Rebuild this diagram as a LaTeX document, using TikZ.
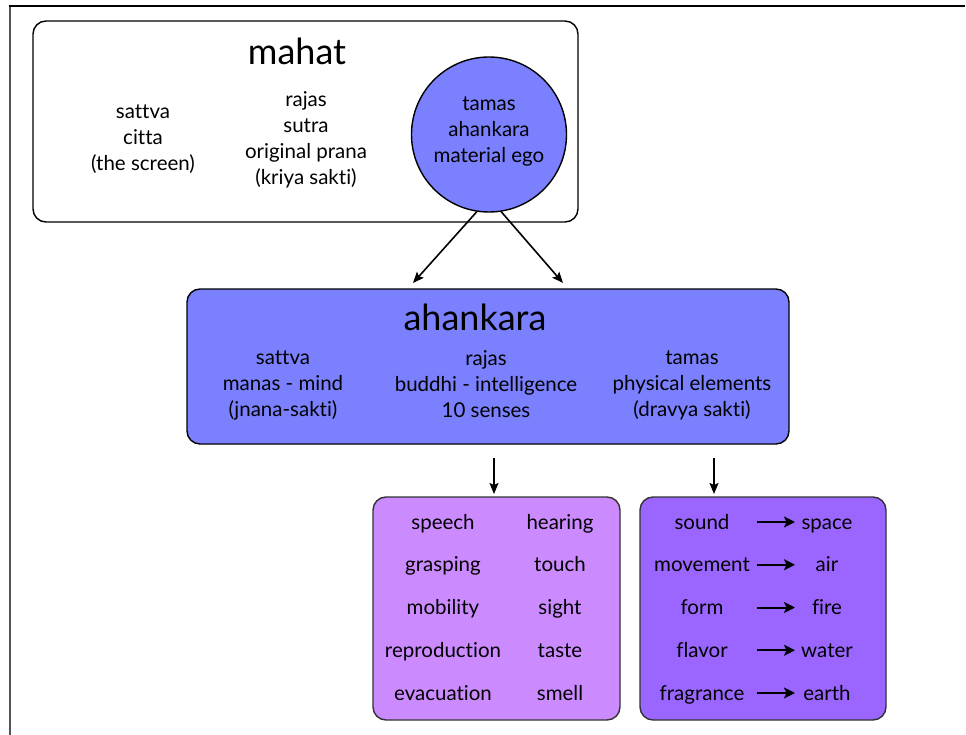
\documentclass[tikz,border=0pt]{standalone}
\usepackage{fontspec}
\setmainfont{Lato}[Ligatures={NoCommon}]
\usetikzlibrary{arrows.meta}

\definecolor{egoblue}{HTML}{7B80FF}
\definecolor{senselilac}{HTML}{CC8AFF}
\definecolor{elemviolet}{HTML}{9B66FF}
\definecolor{framegray}{HTML}{555555}

\tikzset{
  panel/.style={draw=black, line width=1.4pt, rounded corners=13pt, inner sep=0pt},
  subpanel/.style={panel, draw=black!80},
  txt/.style={align=center, inner sep=0pt, font=\fontsize{20.5}{26}\selectfont,
    execute at begin node={\strut}, execute at end node={\strut}},
  title/.style={inner sep=0pt, font=\fontsize{36}{40}\selectfont},
  flow/.style={line width=1.6pt, -{Stealth[length=11pt,width=9pt,inset=2pt]}},
  maps/.style={line width=2pt, -{Stealth[length=11pt,width=11pt,inset=2.5pt]}},
}

\begin{document}
\begin{tikzpicture}[x=1pt, y=-1pt]
\useasboundingbox (0,0) rectangle (966,735);

% page frame
\draw[framegray, line width=1.5pt] (10,735) -- (10,6);
\draw[black, line width=1.2pt] (9.3,6) -- (965,6);

% ---- mahat ----
\node[panel, fill=white, minimum width=545pt, minimum height=201pt] (mahat) at (305.5,121.5) {};
\node[title] (mahatT) at (297,51) {mahat};
\node[txt] (mSattva) at (143,142) {sattva\\citta\\(the screen)};
\node[txt] (mRajas) at (306,142) {rajas\\sutra\\original prana\\(kriya sakti)};
\node[circle, draw=black, line width=1.4pt, fill=egoblue, minimum size=155pt, inner sep=0pt] (ego) at (489,134.5) {};
\node[txt] (egoT) at (489,134) {tamas\\ahankara\\material ego};

% ---- ahankara ----
\node[panel, fill=egoblue, minimum width=602pt, minimum height=155pt] (ahank) at (488,366.5) {};
\node[title] (ahankT) at (475,317) {ahankara};
\node[txt] (aSattva) at (283,388) {sattva\\manas - mind\\(jnana-sakti)};
\node[txt] (aRajas) at (486,388) {rajas\\buddhi - intelligence\\10 senses};
\node[txt] (aTamas) at (692,388) {tamas\\physical elements\\(dravya sakti)};

\coordinate (toL) at (413,283);
\coordinate (toR) at (563,283);
\draw[flow] (ego.261) -- (toL);
\draw[flow] (ego.279) -- (toR);

% ---- senses ----
\node[subpanel, fill=senselilac, minimum width=247pt, minimum height=223pt] (senses) at (496.5,608.5) {};
\foreach \n/\a/\b [count=\i from 0] in {s1/speech/hearing, s2/grasping/touch, s3/mobility/sight, s4/reproduction/taste, s5/evacuation/smell}{
  \node[txt] (\n a) at (443,{524+42.75*\i}) {\a};
  \node[txt] (\n b) at (560,{524+42.75*\i}) {\b};
}

% ---- elements ----
\node[subpanel, fill=elemviolet, minimum width=246pt, minimum height=223pt] (elems) at (763,608.5) {};
\foreach \n/\a/\b [count=\i from 0] in {e1/sound/space, e2/movement/air, e3/form/fire, e4/flavor/water, e5/fragrance/earth}{
  \node[txt] (\n a) at (702,{524+42.75*\i}) {\a};
  \node[txt] (\n b) at (827,{524+42.75*\i}) {\b};
  \coordinate (\n s) at (757,{522+42.75*\i});
  \coordinate (\n t) at (795,{522+42.75*\i});
  \draw[maps] (\n s) -- (\n t);
}

\coordinate (sTop) at (494,458);
\coordinate (sEnd) at (494,494);
\coordinate (eTop) at (714,458);
\coordinate (eEnd) at (714,494);
\draw[flow] (sTop) -- (sEnd);
\draw[flow] (eTop) -- (eEnd);
\end{tikzpicture}
\end{document}
